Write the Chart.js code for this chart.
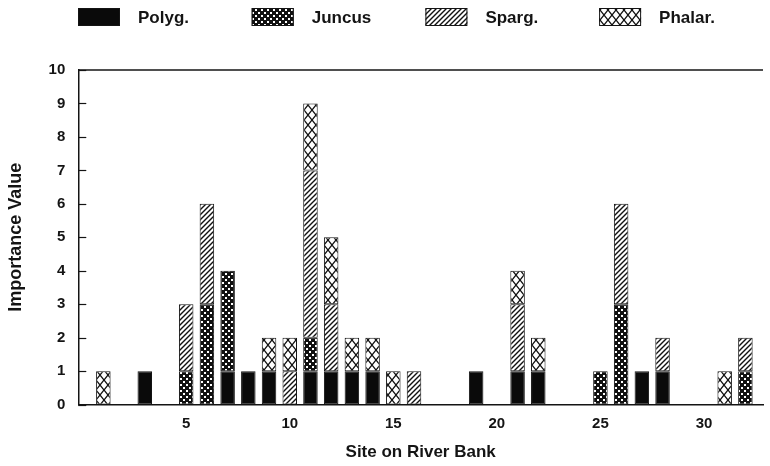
<!DOCTYPE html>
<html>
<head>
<meta charset="utf-8">
<script src="https://cdn.jsdelivr.net/npm/chart.js@4.4.1/dist/chart.umd.min.js"></script>
<style>
  html, body { margin: 0; padding: 0; background: #fff; }
  #wrap { width: 770px; height: 466px; position: relative; }
</style>
</head>
<body>
<div id="wrap"><canvas id="c" width="770" height="466"></canvas></div>
<script>
// ---- data ----
const sites  = [1,2,3,4,5,6,7,8,9,10,11,12,13,14,15,16,17,18,19,20,21,22,23,24,25,26,27,28,29,30,31,32];
const polyg  = [0,0,1,0,0,0,1,1,1,0,1,1,1,1,0,0,0,0,1,0,1,1,0,0,0,0,1,1,0,0,0,0];
const juncus = [0,0,0,0,1,3,3,0,0,0,1,0,0,0,0,0,0,0,0,0,0,0,0,0,1,3,0,0,0,0,0,1];
const sparg  = [0,0,0,0,2,3,0,0,0,1,5,2,0,0,0,1,0,0,0,0,2,0,0,0,0,3,0,1,0,0,0,1];
const phalar = [1,0,0,0,0,0,0,0,1,1,2,2,1,1,1,0,0,0,0,0,1,1,0,0,0,0,0,0,0,0,1,0];
const seriesNames = ['Polyg.', 'Juncus', 'Sparg.', 'Phalar.'];
const xTickLabels = [5, 10, 15, 20, 25, 30];
const yTickLabels = [0,1,2,3,4,5,6,7,8,9,10];

// ---- fill patterns ----
function tile(w, h, draw) {
  const c = document.createElement('canvas');
  c.width = w; c.height = h;
  const g = c.getContext('2d');
  draw(g, w, h);
  return c.getContext('2d').createPattern(c, 'repeat');
}
const solidFill = '#0a0a0a';
const dotFill = tile(6, 6, (g) => {
  g.fillStyle = '#111'; g.fillRect(0, 0, 6, 6);
  g.fillStyle = '#fff'; g.fillRect(0, 0, 2, 2); g.fillRect(3, 3, 2, 2);
});
const hatchFill = tile(5, 5, (g, w, h) => {
  g.fillStyle = '#fff'; g.fillRect(0, 0, w, h);
  g.strokeStyle = '#111'; g.lineWidth = 1.4;
  g.beginPath();
  g.moveTo(0, h); g.lineTo(w, 0);
  g.moveTo(-1, 1); g.lineTo(1, -1);
  g.moveTo(w - 1, h + 1); g.lineTo(w + 1, h - 1);
  g.stroke();
});
const crossFill = tile(8, 10, (g, w, h) => {
  g.fillStyle = '#fff'; g.fillRect(0, 0, w, h);
  g.strokeStyle = '#111'; g.lineWidth = 1.3;
  g.beginPath();
  g.moveTo(0, 0); g.lineTo(w, h);
  g.moveTo(w, 0); g.lineTo(0, h);
  g.stroke();
});
const fills = [solidFill, dotFill, hatchFill, crossFill];
const seriesValues = [polyg, juncus, sparg, phalar];

function toPoints(vals) {
  const pts = [];
  vals.forEach((v, i) => { if (v > 0) pts.push({ x: sites[i], y: v }); });
  return pts;
}

const FONT = "'Liberation Sans', Arial, Helvetica, sans-serif";
const INK = '#141414';

// custom legend + frame decorations
const decor = {
  id: 'decor',
  afterDraw(chart) {
    const ctx = chart.ctx;
    const area = chart.chartArea;
    const ys = chart.scales.y;
    ctx.save();
    // top frame line at max value
    ctx.strokeStyle = INK; ctx.lineWidth = 1.5;
    ctx.beginPath();
    ctx.moveTo(area.left, ys.getPixelForValue(ys.max));
    ctx.lineTo(area.right, ys.getPixelForValue(ys.max));
    ctx.stroke();
    // inward tick marks on y axis
    ctx.lineWidth = 1.2;
    ys.ticks.forEach(t => {
      const py = Math.round(ys.getPixelForValue(t.value)) + 0.5;
      ctx.beginPath();
      ctx.moveTo(area.left, py);
      ctx.lineTo(area.left + 8, py);
      ctx.stroke();
    });
    // legend
    const startX = 78, step = 173.7, boxW = 42, boxH = 18, boxY = 8;
    ctx.font = "bold 17px " + FONT;
    ctx.textBaseline = 'middle';
    ctx.textAlign = 'left';
    chart.data.datasets.forEach((ds, i) => {
      const x = startX + i * step;
      ctx.fillStyle = ds.backgroundColor;
      ctx.fillRect(x, boxY, boxW, boxH);
      ctx.strokeStyle = INK; ctx.lineWidth = 1;
      ctx.strokeRect(x + 0.5, boxY + 0.5, boxW - 1, boxH - 1);
      ctx.fillStyle = INK;
      ctx.fillText(ds.label, x + boxW + 18, boxY + boxH / 2 + 1);
    });
    ctx.restore();
  }
};

new Chart(document.getElementById('c'), {
  type: 'bar',
  data: {
    datasets: seriesNames.map((name, i) => ({
      label: name,
      data: toPoints(seriesValues[i]),
      backgroundColor: fills[i],
      borderColor: INK,
      borderWidth: 1,
      borderSkipped: false,
      barPercentage: 0.7,
      categoryPercentage: 1.0
    }))
  },
  options: {
    responsive: false,
    animation: false,
    devicePixelRatio: 1,
    layout: { padding: { top: 70, right: 7, bottom: 0, left: 5 } },
    plugins: {
      legend: { display: false },
      tooltip: { enabled: false }
    },
    scales: {
      x: {
        type: 'linear',
        stacked: true,
        offset: false,
        min: -0.21,
        max: 32.85,
        afterBuildTicks: s => { s.ticks = xTickLabels.map(v => ({ value: v })); },
        grid: { display: false, drawTicks: false },
        border: { display: true, color: INK, width: 1.5 },
        ticks: { color: INK, font: { family: FONT, size: 15, weight: 'bold' }, padding: 10, maxRotation: 0, autoSkip: false },
        title: { display: true, text: 'Site on River Bank', color: INK,
                 font: { family: FONT, size: 17, weight: 'bold' }, padding: { top: 0, bottom: 3 } }
      },
      y: {
        stacked: true,
        min: 0,
        max: 10,
        afterBuildTicks: s => { s.ticks = yTickLabels.map(v => ({ value: v })); },
        grid: { display: false, drawTicks: false },
        border: { display: true, color: INK, width: 1.5 },
        ticks: { color: INK, font: { family: FONT, size: 15, weight: 'bold' }, padding: 13 },
        title: { display: true, text: 'Importance Value', color: INK,
                 font: { family: FONT, size: 18, weight: 'bold' }, padding: { top: 0, bottom: 9 } }
      }
    }
  },
  plugins: [decor]
});
</script>
</body>
</html>
